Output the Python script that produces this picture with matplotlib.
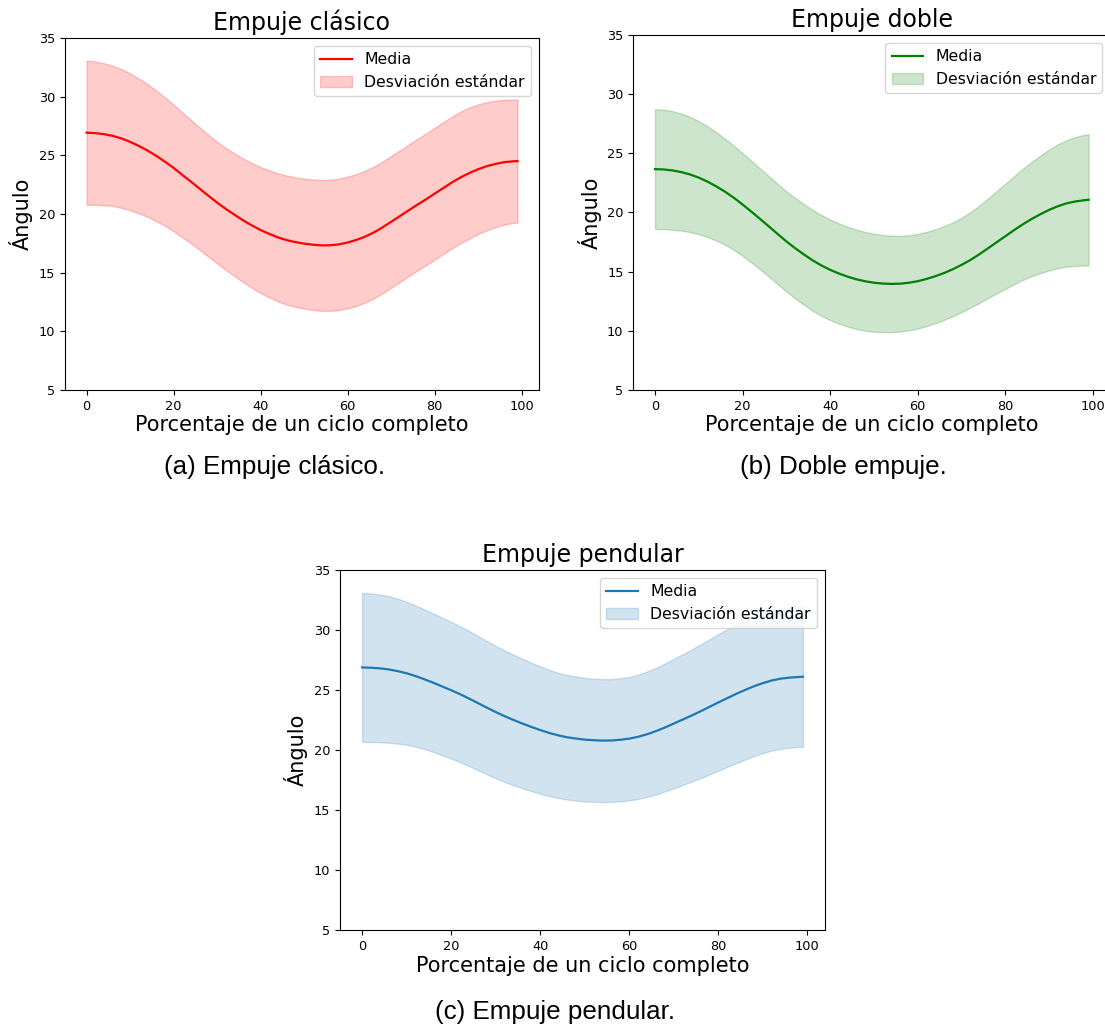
import numpy as np
import matplotlib
matplotlib.use("Agg")
import matplotlib.pyplot as plt

# Percentage of a full cycle (every 2 %, plus the last sample)
ciclo = np.r_[np.arange(0, 99, 2), 99]

# Empuje clásico: mean angle and standard deviation
media_clasico = [26.93, 26.89, 26.80, 26.66, 26.44, 26.15, 25.80, 25.41, 24.96, 24.46,
                 23.93, 23.33, 22.75, 22.15, 21.55, 20.97, 20.43, 19.93, 19.45, 19.02,
                 18.63, 18.30, 18.00, 17.77, 17.60, 17.47, 17.38, 17.32, 17.33, 17.41,
                 17.57, 17.79, 18.07, 18.42, 18.86, 19.34, 19.82, 20.31, 20.79, 21.25,
                 21.74, 22.22, 22.70, 23.13, 23.50, 23.82, 24.08, 24.27, 24.42, 24.49,
                 24.51]
std_clasico = [6.15, 6.11, 6.05, 5.98, 5.91, 5.83, 5.75, 5.66, 5.57, 5.48,
               5.40, 5.33, 5.26, 5.22, 5.19, 5.18, 5.20, 5.23, 5.27, 5.32,
               5.37, 5.42, 5.46, 5.50, 5.52, 5.54, 5.56, 5.58, 5.59, 5.60,
               5.61, 5.62, 5.62, 5.62, 5.62, 5.62, 5.61, 5.61, 5.61, 5.62,
               5.62, 5.62, 5.62, 5.61, 5.59, 5.53, 5.46, 5.39, 5.32, 5.26,
               5.24]

# Empuje doble
media_doble = [23.66, 23.63, 23.55, 23.41, 23.21, 22.94, 22.60, 22.20, 21.75, 21.24,
               20.67, 20.07, 19.45, 18.82, 18.18, 17.55, 16.98, 16.45, 15.95, 15.52,
               15.15, 14.84, 14.57, 14.35, 14.18, 14.06, 13.99, 13.96, 13.98, 14.06,
               14.19, 14.38, 14.61, 14.88, 15.20, 15.57, 15.98, 16.45, 16.96, 17.48,
               17.99, 18.51, 19.00, 19.45, 19.85, 20.22, 20.53, 20.77, 20.93, 21.03,
               21.07]
std_doble = [5.07, 5.05, 5.01, 4.95, 4.87, 4.78, 4.68, 4.58, 4.48, 4.40,
             4.34, 4.29, 4.26, 4.25, 4.24, 4.24, 4.25, 4.25, 4.26, 4.26,
             4.25, 4.24, 4.22, 4.20, 4.17, 4.14, 4.11, 4.08, 4.05, 4.02,
             4.00, 3.98, 3.97, 3.96, 3.96, 3.99, 4.04, 4.11, 4.20, 4.32,
             4.44, 4.57, 4.70, 4.83, 4.97, 5.12, 5.24, 5.35, 5.45, 5.52,
             5.54]

# Empuje pendular
media_pendular = [26.89, 26.86, 26.81, 26.72, 26.58, 26.40, 26.17, 25.90, 25.61, 25.30,
                  24.99, 24.66, 24.30, 23.92, 23.54, 23.17, 22.83, 22.51, 22.21, 21.93,
                  21.67, 21.43, 21.23, 21.07, 20.96, 20.87, 20.82, 20.79, 20.80, 20.86,
                  20.95, 21.11, 21.32, 21.58, 21.88, 22.21, 22.54, 22.88, 23.23, 23.60,
                  23.97, 24.33, 24.68, 25.01, 25.32, 25.58, 25.80, 25.95, 26.04, 26.09,
                  26.11]
std_pendular = [6.21, 6.19, 6.15, 6.11, 6.04, 5.96, 5.88, 5.82, 5.77, 5.73,
                5.70, 5.66, 5.63, 5.59, 5.55, 5.52, 5.48, 5.44, 5.40, 5.35,
                5.31, 5.26, 5.22, 5.19, 5.17, 5.15, 5.13, 5.12, 5.12, 5.13,
                5.14, 5.18, 5.23, 5.28, 5.33, 5.39, 5.45, 5.51, 5.57, 5.63,
                5.69, 5.74, 5.78, 5.80, 5.82, 5.83, 5.84, 5.84, 5.84, 5.83,
                5.83]

titulos = ["Empuje clásico", "Empuje doble", "Empuje pendular"]
subtitulos = ["(a) Empuje clásico.", "(b) Doble empuje.", "(c) Empuje pendular."]
colores = ["red", "green", "C0"]
y_ticks = [5, 10, 15, 20, 25, 30, 35]
x_ticks = [0, 20, 40, 60, 80, 100]

fig = plt.figure(figsize=(11.05, 10.27), dpi=100)

# axes rectangles in figure fractions
rects = [
    [0.0588, 0.6203, 0.4290, 0.3427],
    [0.5731, 0.6203, 0.4317, 0.3457],
    [0.3077, 0.0944, 0.4389, 0.3505],
]
series = [
    (media_clasico, std_clasico),
    (media_doble, std_doble),
    (media_pendular, std_pendular),
]
caption_pos = [(275 / 1105, 1 - 467 / 1027),
               (843 / 1105, 1 - 467 / 1027),
               (555 / 1105, 1 - 1012 / 1027)]

for rect, (media, std), titulo, sub, color, cpos in zip(
        rects, series, titulos, subtitulos, colores, caption_pos):
    media = np.asarray(media)
    std = np.asarray(std)
    ax = fig.add_axes(rect)
    ax.plot(ciclo, media, color=color, lw=1.6, label="Media")
    ax.fill_between(ciclo, media - std, media + std, color=color, alpha=0.2,
                    label="Desviación estándar")
    ax.set_xlim(-4.95, 103.95)
    ax.set_ylim(5, 35)
    ax.set_yticks(y_ticks)
    ax.set_xticks(x_ticks)
    ax.tick_params(labelsize=9.3)
    ax.set_title(titulo, fontsize=17)
    ax.set_xlabel("Porcentaje de un ciclo completo", fontsize=15, labelpad=2)
    ax.set_ylabel("Ángulo", fontsize=15)
    ax.legend(loc="upper right", fontsize=11.3)
    fig.text(cpos[0], cpos[1], sub, ha="center", va="center",
             fontsize=18.7, family="Liberation Sans")

fig.savefig("out.png", dpi=100)
